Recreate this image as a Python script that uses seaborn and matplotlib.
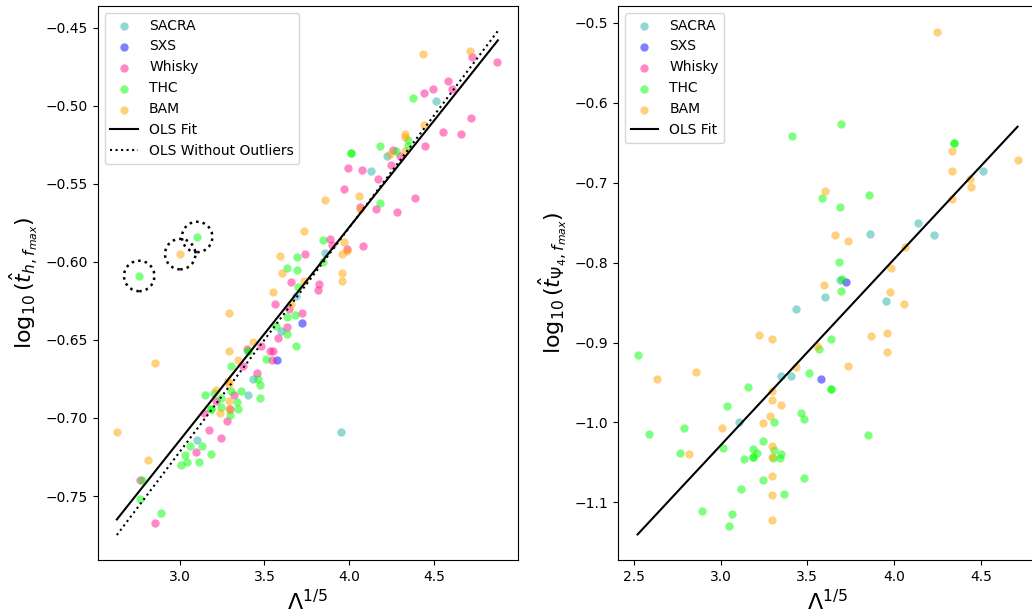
import numpy as np
import pandas as pd
import matplotlib
matplotlib.use("Agg")
import matplotlib.pyplot as plt
import seaborn as sns

# ---------------- Left panel data: log10(t_h, fmax) ----------------
sacra_x_L = [4.511, 4.226, 4.132, 3.86, 3.685, 3.60, 3.43, 3.403, 3.103, 3.95]
sacra_y_L = [-0.497, -0.532, -0.542, -0.594, -0.622, -0.644, -0.675, -0.685, -0.714, -0.709]

sxs_x_L = [3.719, 3.575]
sxs_y_L = [-0.639, -0.663]

whisky_x_L = [4.724, 4.873, 4.44, 4.497, 4.581, 4.605, 4.722, 4.552, 4.658, 4.448,
              4.26, 4.30, 4.25, 3.991, 4.077, 4.17, 3.971, 4.389, 4.064, 4.156,
              4.283, 3.885, 3.897, 3.985, 4.083, 3.821, 3.817, 3.738, 3.658, 3.562,
              3.648, 3.72, 3.632, 3.579, 3.477, 3.395, 3.534, 3.55, 3.542, 3.371,
              3.458, 3.32, 3.213, 3.295, 3.142, 3.281, 3.17, 3.242, 3.097, 2.767, 2.854]
whisky_y_L = [-0.469, -0.472, -0.492, -0.489, -0.484, -0.489, -0.508, -0.517, -0.518, -0.526,
              -0.528, -0.532, -0.538, -0.540, -0.541, -0.547, -0.553, -0.559, -0.565, -0.566,
              -0.568, -0.585, -0.589, -0.592, -0.590, -0.614, -0.618, -0.595, -0.613, -0.627,
              -0.630, -0.633, -0.642, -0.649, -0.654, -0.656, -0.657, -0.657, -0.663, -0.667,
              -0.671, -0.685, -0.689, -0.694, -0.697, -0.702, -0.708, -0.713, -0.722, -0.740, -0.767]

thc_x_L = [4.377, 4.345, 4.345, 4.185, 4.277, 4.011, 4.011, 4.185, 3.103, 2.761,
           3.848, 3.848, 3.693, 3.636, 3.691, 3.697, 3.636, 3.679, 3.571, 3.636,
           3.685, 3.405, 3.405, 3.511, 3.301, 3.462, 3.475, 3.152, 3.201, 3.244,
           3.36, 3.305, 3.475, 3.242, 3.34, 3.344, 3.185, 3.185, 3.297, 3.058,
           3.13, 3.185, 3.03, 3.042, 3.113, 3.009, 2.779, 2.765, 2.887]
thc_y_L = [-0.495, -0.522, -0.526, -0.526, -0.529, -0.530, -0.530, -0.562, -0.584, -0.609,
           -0.586, -0.600, -0.597, -0.604, -0.605, -0.616, -0.635, -0.634, -0.641, -0.646,
           -0.654, -0.657, -0.657, -0.662, -0.667, -0.675, -0.679, -0.685, -0.684, -0.687,
           -0.683, -0.683, -0.687, -0.693, -0.690, -0.694, -0.694, -0.694, -0.698, -0.718,
           -0.718, -0.723, -0.724, -0.728, -0.728, -0.730, -0.740, -0.752, -0.761]

bam_x_L = [4.438, 4.711, 4.442, 4.33, 4.33, 4.328, 4.242, 4.058, 3.86, 4.065,
           3.003, 3.736, 3.971, 3.958, 3.985, 3.958, 3.958, 3.591, 3.601, 3.732,
           3.552, 3.658, 3.293, 3.432, 3.293, 3.344, 2.854, 3.283, 3.293, 3.213,
           3.293, 3.293, 3.238, 2.629, 2.815]
bam_y_L = [-0.467, -0.465, -0.512, -0.518, -0.520, -0.529, -0.531, -0.558, -0.560, -0.566,
           -0.595, -0.580, -0.587, -0.595, -0.593, -0.607, -0.612, -0.596, -0.607, -0.612,
           -0.619, -0.627, -0.633, -0.651, -0.657, -0.663, -0.665, -0.676, -0.678, -0.682,
           -0.689, -0.694, -0.697, -0.709, -0.727]

outlier_x_L = [2.761, 3.003, 3.103]
outlier_y_L = [-0.609, -0.595, -0.584]

ols_x_L = [2.629, 4.878]
ols_y_L = [-0.765, -0.458]
ols_wo_y_L = [-0.775, -0.452]

# ---------------- Right panel data: log10(t_Psi4, fmax) ----------------
sacra_x_R = [4.513, 4.136, 4.228, 3.864, 3.687, 3.602, 3.952, 3.432, 3.35, 3.407, 3.105]
sacra_y_R = [-0.685, -0.750, -0.765, -0.764, -0.822, -0.843, -0.848, -0.858, -0.942, -0.942, -1.000]

sxs_x_R = [3.723, 3.579]
sxs_y_R = [-0.824, -0.945]

whisky_x_R = []
whisky_y_R = []

thc_x_R = [3.696, 3.411, 4.343, 4.343, 3.853, 3.587, 3.689, 3.683, 3.702, 3.696,
           3.638, 3.569, 2.521, 3.512, 3.156, 3.638, 3.638, 3.034, 3.463, 3.482,
           3.305, 2.787, 2.588, 3.851, 3.246, 3.015, 3.187, 3.208, 3.189, 3.189,
           2.768, 3.133, 3.305, 3.30, 3.348, 3.34, 3.246, 3.482, 3.118, 3.363,
           2.892, 3.063, 3.046]
thc_y_R = [-0.627, -0.642, -0.650, -0.650, -0.715, -0.719, -0.731, -0.799, -0.820, -0.835,
           -0.895, -0.908, -0.915, -0.938, -0.955, -0.958, -0.958, -0.979, -0.988, -0.996,
           -0.999, -1.007, -1.014, -1.016, -1.023, -1.032, -1.033, -1.038, -1.043, -1.043,
           -1.038, -1.046, -1.035, -1.044, -1.039, -1.044, -1.072, -1.069, -1.083, -1.089,
           -1.111, -1.115, -1.130]

bam_x_R = [4.249, 4.333, 4.712, 4.333, 4.44, 4.444, 3.604, 4.333, 3.66, 3.736,
           4.061, 3.985, 3.595, 3.974, 4.06, 3.219, 3.296, 3.866, 3.962, 3.962,
           3.556, 3.736, 3.434, 2.634, 2.858, 3.296, 3.296, 3.348, 3.285, 3.242,
           3.007, 3.296, 2.817, 3.296, 3.296, 3.296, 3.296]
bam_y_R = [-0.511, -0.660, -0.672, -0.685, -0.695, -0.705, -0.711, -0.720, -0.765, -0.773,
           -0.781, -0.807, -0.828, -0.837, -0.852, -0.890, -0.895, -0.892, -0.888, -0.912,
           -0.904, -0.929, -0.931, -0.946, -0.937, -0.960, -0.972, -0.978, -0.992, -1.001,
           -1.007, -1.030, -1.040, -1.043, -1.067, -1.091, -1.122]

ols_x_R = [2.521, 4.712]
ols_y_R = [-1.140, -0.630]

sources = ["SACRA", "SXS", "Whisky", "THC", "BAM"]
colors = {"SACRA": "lightseagreen", "SXS": "blue", "Whisky": "deeppink",
          "THC": "lime", "BAM": "orange"}

left_data = {"SACRA": (sacra_x_L, sacra_y_L), "SXS": (sxs_x_L, sxs_y_L),
             "Whisky": (whisky_x_L, whisky_y_L), "THC": (thc_x_L, thc_y_L),
             "BAM": (bam_x_L, bam_y_L)}
right_data = {"SACRA": (sacra_x_R, sacra_y_R), "SXS": (sxs_x_R, sxs_y_R),
              "Whisky": (whisky_x_R, whisky_y_R), "THC": (thc_x_R, thc_y_R),
              "BAM": (bam_x_R, bam_y_R)}

W, H = 1032, 609
fig = plt.figure(figsize=(W / 100, H / 100), dpi=100)
axL = fig.add_axes([97.7 / W, (H - 560) / H, 420 / W, 554 / H])
axR = fig.add_axes([618 / W, (H - 560) / H, 420 / W, 554 / H])


def draw_points(ax, data):
    for name in sources:
        xs, ys = data[name]
        if len(xs) > 0:
            df = pd.DataFrame({"x": xs, "y": ys})
            sns.scatterplot(data=df, x="x", y="y", color=colors[name], alpha=0.5,
                            s=36, linewidth=0, ax=ax, label=name, zorder=2)
        else:
            ax.scatter(xs, ys, color=colors[name], alpha=0.5, s=36,
                       linewidths=0, label=name)


draw_points(axL, left_data)
sns.lineplot(x=ols_x_L, y=ols_y_L, color="black", lw=1.5, ax=axL, label="OLS Fit", zorder=3)
axL.plot(ols_x_L, ols_wo_y_L, color="black", lw=1.5, ls=":", label="OLS Without Outliers", zorder=3)
axL.scatter(outlier_x_L, outlier_y_L, s=480, facecolors="none", edgecolors="black",
            linestyles=":", linewidths=1.8, zorder=3)
axL.set_xlim(2.516, 4.995)
axL.set_ylim(-0.791, -0.436)
axL.set_xlabel(r"$\Lambda^{1/5}$", fontsize=16)
axL.set_ylabel(r"$\log_{10}(\hat{t}_{h,f_{max}})$", fontsize=16)
axL.legend(loc="upper left", fontsize=10)

draw_points(axR, right_data)
sns.lineplot(x=ols_x_R, y=ols_y_R, color="black", lw=1.5, ax=axR, label="OLS Fit", zorder=3)
axR.set_xlim(2.408, 4.83)
axR.set_ylim(-1.172, -0.479)
axR.set_xlabel(r"$\Lambda^{1/5}$", fontsize=16)
axR.set_ylabel(r"$\log_{10}(\hat{t}_{\Psi_4,f_{max}})$", fontsize=16)
axR.legend(loc="upper left", fontsize=10)

for ax in (axL, axR):
    ax.xaxis.set_major_locator(matplotlib.ticker.MultipleLocator(0.5))

axL.yaxis.set_major_locator(matplotlib.ticker.MultipleLocator(0.05))
axR.yaxis.set_major_locator(matplotlib.ticker.MultipleLocator(0.1))

fig.savefig("out.png", dpi=100)
